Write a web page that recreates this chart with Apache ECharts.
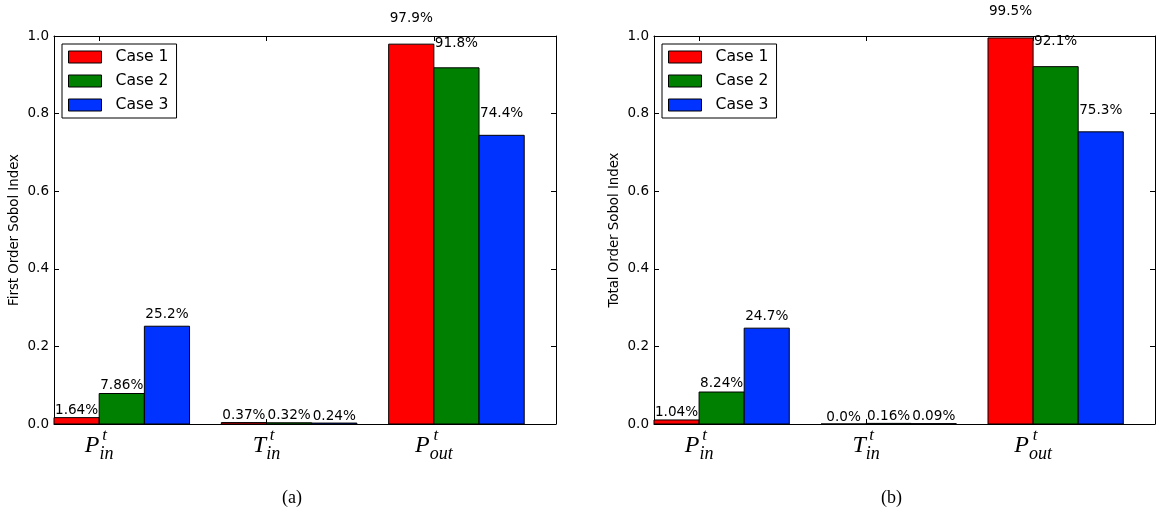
<!DOCTYPE html>
<html><head><meta charset="utf-8">
<script src="https://cdn.jsdelivr.net/npm/echarts@6/dist/echarts.min.js"></script>
<style>html,body{margin:0;padding:0;background:#fff}#c{width:1158px;height:516px}</style>
</head><body><div id="c"></div>
<script>
// ---------- data ----------
const caseNames = ['Case 1', 'Case 2', 'Case 3'];
const paramBase = ['P', 'T', 'P'];
const paramSub = ['in', 'in', 'out'];
const paramSup = ['t', 't', 't'];
const yTicks = [0, 0.2, 0.4, 0.6, 0.8, 1.0];

const firstCase1 = [0.0164, 0.0037, 0.979];
const firstCase2 = [0.0786, 0.0032, 0.918];
const firstCase3 = [0.252, 0.0024, 0.744];
const firstText1 = ['1.64%', '0.37%', '97.9%'];
const firstText2 = ['7.86%', '0.32%', '91.8%'];
const firstText3 = ['25.2%', '0.24%', '74.4%'];

const totalCase1 = [0.0104, 0.0, 0.995];
const totalCase2 = [0.0824, 0.0016, 0.921];
const totalCase3 = [0.247, 0.0009, 0.753];
const totalText1 = ['1.04%', '0.0%', '99.5%'];
const totalText2 = ['8.24%', '0.16%', '92.1%'];
const totalText3 = ['24.7%', '0.09%', '75.3%'];

const yTitles = ['First Order Sobol Index', 'Total Order Sobol Index'];
const captions = ['(a)', '(b)'];

// ---------- style ----------
const colors = ['#ff0000', '#008000', '#0033ff'];
const BAR_W = 0.27;
const LABEL_LIFT = 1.05;
const tickPos = [0, 1, 2].map(i => i + BAR_W);
const plotBoxes = [
  { left: 54, top: 36, width: 502, height: 388 },
  { left: 654, top: 36, width: 501, height: 388 }
];
const sansFont = 'DejaVu Sans';
const mathFont = 'Liberation Serif';

function idxOf(val) { return Math.round(val - BAR_W); }

function xAxes(gi) {
  const common = {
    type: 'value', gridIndex: gi, min: 0, max: 3,
    splitLine: { show: false },
    axisLine: { show: true, onZero: false, lineStyle: { color: '#000', width: 1 } },
    axisTick: { show: true, inside: true, length: 5, customValues: tickPos, lineStyle: { color: '#000' } }
  };
  return [
    Object.assign({}, common, {
      position: 'bottom',
      axisLabel: {
        show: true, customValues: tickPos, margin: 10,
        formatter: function (val) {
          const idx = idxOf(val);
          return '{P|' + paramBase[idx] + '}{sb|' + paramSub[idx] + '}';
        },
        rich: {
          P: { fontFamily: mathFont, fontStyle: 'italic', fontSize: 24, color: '#000', verticalAlign: 'top' },
          sb: { fontFamily: mathFont, fontStyle: 'italic', fontSize: 18, color: '#000', lineHeight: 29, verticalAlign: 'bottom' }
        }
      }
    }),
    Object.assign({}, common, { position: 'top', axisLabel: { show: false } })
  ];
}
// superscript row of the tick labels (separate overlay axis on same plot box)
function supAxis(gi) {
  return {
    type: 'value', gridIndex: gi, min: 0, max: 3, position: 'bottom',
    splitLine: { show: false }, axisLine: { show: false }, axisTick: { show: false },
    axisLabel: {
      show: true, customValues: tickPos, margin: 10,
      formatter: function (val) {
        const idx = idxOf(val);
        return paramSub[idx] === 'out' ? '{spOut|' + paramSup[idx] + '}' : '{spIn|' + paramSup[idx] + '}';
      },
      rich: {
        spIn: { fontFamily: mathFont, fontStyle: 'italic', fontSize: 17, color: '#000', lineHeight: 4, padding: [0, 0, 0, 11] },
        spOut: { fontFamily: mathFont, fontStyle: 'italic', fontSize: 17, color: '#000', lineHeight: 4, padding: [0, 0, 0, 4] }
      }
    }
  };
}
function yAxes(gi) {
  const common = {
    type: 'value', gridIndex: gi, min: 0, max: 1, interval: 0.2,
    splitLine: { show: false },
    axisLine: { show: true, onZero: false, lineStyle: { color: '#000', width: 1 } },
    axisTick: { show: true, inside: true, length: 5, lineStyle: { color: '#000' } }
  };
  return [
    Object.assign({}, common, {
      position: 'left',
      name: yTitles[gi], nameLocation: 'middle', nameRotate: 90, nameGap: 33,
      nameTextStyle: { fontFamily: sansFont, fontSize: 13.3, color: '#000' },
      axisLabel: { show: true, margin: 5, fontFamily: sansFont, fontSize: 13.5, color: '#000',
        formatter: v => v.toFixed(1) }
    }),
    Object.assign({}, common, { position: 'right', axisLabel: { show: false } })
  ];
}

function barSeries(gi, k, values, texts) {
  return {
    type: 'custom', name: caseNames[k],
    coordinateSystem: 'cartesian2d', xAxisIndex: gi * 2, yAxisIndex: gi * 2,
    itemStyle: { color: colors[k], borderColor: '#000', borderWidth: 1 },
    data: values.map((v, i) => [i, v]),
    encode: { x: 0, y: 1 },
    renderItem: function (params, api) {
      const i = api.value(0), v = api.value(1);
      const x0 = i + k * BAR_W;
      const a = api.coord([x0, 0]);
      const b = api.coord([x0 + BAR_W, v]);
      const c = api.coord([x0 + BAR_W / 2, v * LABEL_LIFT]);
      return {
        type: 'group',
        children: [
          { type: 'rect', shape: { x: a[0], y: b[1], width: b[0] - a[0], height: a[1] - b[1] },
            style: { fill: colors[k], stroke: '#000', lineWidth: 1 } },
          { type: 'text', x: c[0], y: c[1],
            style: { text: texts[params.dataIndex], align: 'center', verticalAlign: 'bottom',
                     fontFamily: sansFont, fontSize: 13.6, fill: '#000' } }
        ]
      };
    }
  };
}

const legendBase = {
  orient: 'vertical', top: 44, icon: 'rect', itemWidth: 33, itemHeight: 12, itemGap: 8,
  borderColor: '#000', borderWidth: 1, padding: [5, 8, 5, 6], backgroundColor: '#fff',
  itemStyle: { borderColor: '#000', borderWidth: 1 },
  textStyle: { fontFamily: sansFont, fontSize: 15.6, color: '#000', padding: [0, 0, 0, 9] },
  selectedMode: false,
  data: caseNames
};

const option = {
  animation: false,
  backgroundColor: '#fff',
  grid: [plotBoxes[0], plotBoxes[1], plotBoxes[0], plotBoxes[1]],
  xAxis: [].concat(xAxes(0), xAxes(1), [supAxis(2), supAxis(3)]),
  yAxis: [].concat(yAxes(0), yAxes(1), [
    { type: 'value', gridIndex: 2, show: false, min: 0, max: 1 },
    { type: 'value', gridIndex: 3, show: false, min: 0, max: 1 }
  ]),
  legend: [
    Object.assign({}, legendBase, { left: 62 }),
    Object.assign({}, legendBase, { left: 662 })
  ],
  title: [
    { text: captions[0], left: 282, top: 489, padding: 0,
      textStyle: { fontFamily: mathFont, fontSize: 18, fontWeight: 'normal', color: '#000' } },
    { text: captions[1], left: 881, top: 489, padding: 0,
      textStyle: { fontFamily: mathFont, fontSize: 18, fontWeight: 'normal', color: '#000' } }
  ],
  series: [
    barSeries(0, 0, firstCase1, firstText1),
    barSeries(0, 1, firstCase2, firstText2),
    barSeries(0, 2, firstCase3, firstText3),
    barSeries(1, 0, totalCase1, totalText1),
    barSeries(1, 1, totalCase2, totalText2),
    barSeries(1, 2, totalCase3, totalText3)
  ]
};

const chart = echarts.init(document.getElementById('c'), null, { renderer: 'canvas' });
chart.setOption(option);
</script>
</body></html>
